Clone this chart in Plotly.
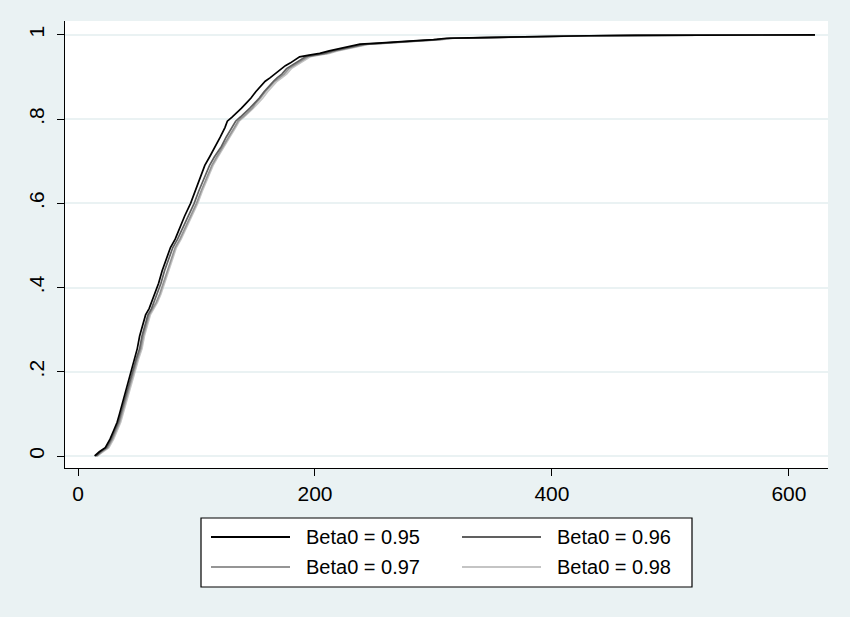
import plotly.graph_objects as go

# Cumulative probability levels (shared by all series)
cum_prob = [0, 0.01, 0.02, 0.04, 0.06, 0.08, 0.10, 0.13, 0.165, 0.185,
            0.205, 0.23, 0.255, 0.285, 0.315, 0.335, 0.35, 0.365, 0.385, 0.41,
            0.44, 0.47, 0.495, 0.515, 0.545, 0.57, 0.60, 0.63, 0.665, 0.69,
            0.71, 0.735, 0.757, 0.78, 0.795, 0.805, 0.815, 0.826, 0.838, 0.85,
            0.865, 0.878, 0.89, 0.898, 0.907, 0.92, 0.927, 0.933, 0.94, 0.948,
            0.952, 0.956, 0.962, 0.966, 0.971, 0.975, 0.978, 0.98, 0.982, 0.986,
            0.989, 0.992, 0.993, 0.9945, 0.996, 0.997, 0.998, 0.999, 0.9995, 1.0]

x_b095 = [14, 18, 23, 27, 30, 33, 35, 38, 41, 43,
          45, 48, 50, 52, 55, 57, 60, 62, 65, 68,
          71, 75, 78, 82, 86, 90, 95, 99, 103, 107,
          111, 116, 120, 124, 126, 130, 134, 138, 142, 146,
          150, 154, 158, 162, 166, 171, 175, 179, 183, 187,
          195, 204, 212, 218, 225, 232, 238, 250, 265, 283,
          300, 311, 330, 356, 380, 400, 430, 470, 530, 622]

x_b096 = [15, 19, 24, 28, 31, 34, 36, 39, 42, 44,
          46, 49, 52, 54, 57, 59, 62, 64, 67, 70,
          73, 77, 80, 84, 89, 93, 98, 102, 107, 111,
          115, 121, 125, 130, 133, 137, 141, 145, 149, 153,
          157, 161, 165, 168, 172, 176, 180, 184, 188, 192,
          199, 208, 215, 222, 229, 236, 242, 254, 268, 286,
          303, 314, 333, 358, 382, 402, 432, 472, 532, 622]

x_b097 = [16, 20, 25, 29, 32, 35, 37, 40, 43, 45,
          47, 50, 53, 55, 58, 60, 63, 66, 69, 72,
          75, 79, 82, 86, 91, 95, 100, 104, 109, 113,
          117, 122, 127, 132, 135, 139, 143, 147, 150, 154,
          158, 162, 166, 170, 174, 178, 182, 186, 190, 194,
          201, 210, 217, 224, 231, 238, 244, 256, 270, 288,
          305, 316, 335, 360, 384, 404, 434, 474, 534, 622]

x_b098 = [16, 21, 26, 30, 33, 36, 38, 41, 44, 46,
          48, 51, 54, 56, 59, 61, 64, 67, 70, 73,
          76, 80, 83, 87, 92, 96, 101, 105, 110, 114,
          118, 123, 128, 133, 136, 140, 144, 148, 152, 156,
          160, 164, 168, 172, 176, 180, 184, 188, 192, 196,
          203, 212, 219, 226, 233, 240, 246, 258, 272, 290,
          307, 318, 337, 362, 386, 406, 436, 476, 536, 622]

series_names = ["Beta0 = 0.95", "Beta0 = 0.96", "Beta0 = 0.97", "Beta0 = 0.98"]
series_x = [x_b095, x_b096, x_b097, x_b098]
series_colors = ["#000000", "#606060", "#959595", "#c4c4c4"]

x_ticks = [0, 200, 400, 600]
y_ticks = [0, 0.2, 0.4, 0.6, 0.8, 1.0]
y_tick_text = ["0", ".2", ".4", ".6", ".8", "1"]

FONT = "Liberation Sans, Arial, sans-serif"
BG = "#eaf2f3"

fig = go.Figure()
# draw lightest first so black is on top
for name, xs, col in reversed(list(zip(series_names, series_x, series_colors))):
    fig.add_trace(go.Scatter(x=xs, y=cum_prob, mode="lines", name=name,
                             line=dict(color=col, width=1.7), showlegend=False))

# manual Stata-style legend
L, R, T, B = 201, 692, 518, 587
PL, PR, PT, PB = 65, 828, 21, 468
def px2x(p):
    return (p - PL) / (PR - PL)
def py2y(p):
    return (PB - p) / (PB - PT)

shapes = [dict(type="rect", xref="paper", yref="paper",
               x0=px2x(L), x1=px2x(R), y0=py2y(T), y1=py2y(B),
               line=dict(color="black", width=1.2), fillcolor="white", layer="below")]
annotations = []
pos = [(211, 537), (462, 537), (211, 567), (462, 567)]
for (lx, ly), name, col in zip(pos, series_names, series_colors):
    shapes.append(dict(type="line", xref="paper", yref="paper",
                       x0=px2x(lx), x1=px2x(lx + 79), y0=py2y(ly), y1=py2y(ly),
                       line=dict(color=col, width=1.8)))
    annotations.append(dict(xref="paper", yref="paper", x=px2x(lx + 93), y=py2y(ly),
                            text=name, showarrow=False, xanchor="left", yanchor="middle",
                            font=dict(family=FONT, size=20, color="black")))

fig.update_layout(
    width=850, height=617,
    margin=dict(l=PL, r=850 - PR, t=PT, b=617 - PB),
    paper_bgcolor=BG, plot_bgcolor="white",
    font=dict(family=FONT, size=20, color="black"),
    shapes=shapes, annotations=annotations,
    xaxis=dict(range=[-11, 633], tickvals=x_ticks, showgrid=False, zeroline=False,
               showline=True, linecolor="black", linewidth=1.3,
               ticks="outside", ticklen=7, tickwidth=1.3, tickcolor="black",
               tickfont=dict(size=21)),
    yaxis=dict(range=[-0.0285, 1.033], tickvals=y_ticks, ticktext=y_tick_text,
               showgrid=True, gridcolor=BG, gridwidth=1.5, zeroline=False,
               showline=True, linecolor="black", linewidth=1.3,
               ticks="outside", ticklen=7, tickwidth=1.3, tickcolor="black",
               tickangle=-90, tickfont=dict(size=21), ticklabelstandoff=4),
)

fig.write_html("out.html")
